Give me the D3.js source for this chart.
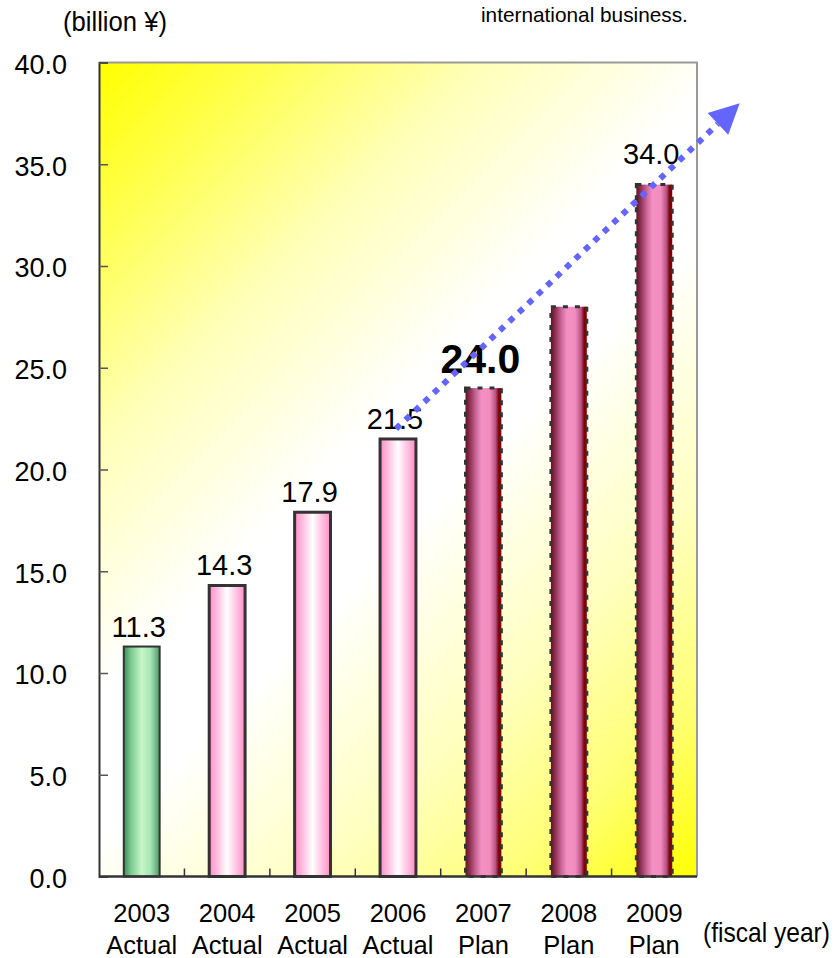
<!DOCTYPE html>
<html>
<head>
<meta charset="utf-8">
<script src="https://cdn.jsdelivr.net/npm/d3@7/dist/d3.min.js"></script>
<style>
  html, body { margin: 0; padding: 0; background: #fff; }
  svg { display: block; }
  text { font-family: "Liberation Sans", Arial, sans-serif; fill: #000; }
</style>
</head>
<body>
<svg id="chart" width="840" height="958"></svg>
<script>
// Fiscal years and their status
const years = ["2003", "2004", "2005", "2006", "2007", "2008", "2009"];
const status = ["Actual", "Actual", "Actual", "Actual", "Plan", "Plan", "Plan"];
// Sales, billion yen
const sales = [11.3, 14.3, 17.9, 21.5, 24.0, 28.0, 34.0];
// Which bars carry a value label
const labelled = [true, true, true, true, true, false, true];
const highlightYear = "2007";
// Value axis ticks
const yTicks = [0, 5, 10, 15, 20, 25, 30, 35, 40];
// Growth trend arrow: [category index, value]
const trendFrom = [3, 22];
const trendTo = [7, 38];

const plot = { left: 99, right: 697, top: 62.5, bottom: 876.5 };

const svg = d3.select("#chart");
const defs = svg.append("defs");

// Background: yellow in two opposite corners, white across the middle (45° bands)
const span = ((plot.right - plot.left) + (plot.bottom - plot.top)) / 2;
const bg = defs.append("linearGradient").attr("id", "bgGrad")
  .attr("gradientUnits", "userSpaceOnUse")
  .attr("x1", plot.left).attr("y1", plot.top)
  .attr("x2", plot.left + span).attr("y2", plot.top + span);
[[0, "#ffff00"], [0.1, "#ffff40"], [0.27, "#ffffb8"], [0.45, "#ffffff"], [0.55, "#ffffff"],
 [0.73, "#ffffc0"], [0.88, "#ffff70"], [1, "#ffff00"]]
  .forEach(([o, c]) => bg.append("stop").attr("offset", o).attr("stop-color", c));

function cylinder(id, stops) {
  const g = defs.append("linearGradient").attr("id", id)
    .attr("x1", 0).attr("y1", 0).attr("x2", 1).attr("y2", 0);
  stops.forEach(([o, c]) => g.append("stop").attr("offset", o).attr("stop-color", c));
}
cylinder("greenGrad", [[0, "#3d8a58"], [0.2, "#7cc992"], [0.5, "#c8f6c8"], [0.75, "#a6e4b4"], [1, "#4e9866"]]);
cylinder("pinkGrad", [[0, "#ff8cc6"], [0.25, "#ffc4e2"], [0.5, "#ffffff"], [0.75, "#ffc4e2"], [1, "#ff8cc6"]]);
cylinder("planGrad", [[0, "#6a1028"], [0.1, "#862a48"], [0.3, "#cc6a9c"], [0.45, "#f590c2"], [0.68, "#f28cc0"],
  [0.84, "#b8527f"], [0.9, "#8a1a34"], [0.93, "#800000"], [1, "#800000"]]);

const x = d3.scaleBand().domain(years).range([plot.left, plot.right])
  .paddingInner(0.58).paddingOuter(0.29);
const y = d3.scaleLinear().domain([0, 40]).range([plot.bottom, plot.top]);
// continuous position by category index (centre of band i)
const xi = i => plot.left + x.step() * (i + 0.5);

// plot background and frame
svg.append("rect")
  .attr("x", plot.left).attr("y", plot.top)
  .attr("width", plot.right - plot.left).attr("height", plot.bottom - plot.top)
  .attr("fill", "url(#bgGrad)");
svg.append("path")
  .attr("d", `M${plot.left},${plot.top}H${plot.right}V${plot.bottom}`)
  .attr("fill", "none").attr("stroke", "#9a9a9a").attr("stroke-width", 2);

// bars
const data = years.map((yr, i) => ({ year: yr, status: status[i], value: sales[i], labelled: labelled[i], i }));
const fillFor = d => d.i === 0 ? "url(#greenGrad)" : d.status === "Actual" ? "url(#pinkGrad)" : "url(#planGrad)";

svg.append("g").selectAll("rect").data(data).join("rect")
  .attr("x", d => x(d.year))
  .attr("y", d => y(d.value))
  .attr("width", x.bandwidth())
  .attr("height", d => y(0) - y(d.value))
  .attr("fill", fillFor)
  .attr("stroke", "#333")
  .attr("stroke-width", d => d.i === 0 ? 2 : 3)
  .attr("stroke-dasharray", d => d.status === "Plan" ? "5,7" : null);

// axes: left value axis and bottom category axis, ticks drawn inward
const yAxis = d3.axisLeft(y).tickValues(yTicks).tickSize(-9).tickPadding(32)
  .tickFormat(d3.format(".1f"));
const gy = svg.append("g").attr("transform", `translate(${plot.left},0)`).call(yAxis);
gy.select(".domain").attr("stroke", "#333").attr("stroke-width", 2);
gy.selectAll(".tick line").attr("stroke", "#555").attr("stroke-width", 1.5);
gy.selectAll(".tick text")
  .attr("font-size", 27).attr("font-family", null).attr("dy", "0.4em");

const gx = svg.append("g").attr("transform", `translate(0,${plot.bottom})`);
gx.append("line").attr("x1", plot.left).attr("x2", plot.right)
  .attr("stroke", "#333").attr("stroke-width", 2.5);
gx.selectAll("line.sep").data(years.slice(1)).join("line").attr("class", "sep")
  .attr("x1", d => x(d) - x.step() * x.paddingInner() / 2)
  .attr("x2", d => x(d) - x.step() * x.paddingInner() / 2)
  .attr("y1", 0).attr("y2", -8)
  .attr("stroke", "#333").attr("stroke-width", 1.5);

// category labels: year and status on two lines
const cat = svg.append("g").selectAll("text").data(data).join("text")
  .attr("text-anchor", "middle").attr("font-size", 25.5);
cat.append("tspan").attr("x", d => x(d.year) + x.bandwidth() / 2).attr("y", 922).text(d => d.year);
cat.append("tspan").attr("x", d => x(d.year) + x.bandwidth() / 2).attr("y", 954).text(d => d.status);

// value labels
svg.append("g").selectAll("text").data(data.filter(d => d.labelled)).join("text")
  .attr("text-anchor", "middle")
  .attr("x", d => x(d.year) + x.bandwidth() / 2 - 3)
  .attr("y", d => y(d.value) - (d.year === highlightYear ? 15 : d.i === years.length - 1 ? 21 : 10))
  .attr("font-size", d => d.year === highlightYear ? 41 : 29)
  .attr("font-weight", d => d.year === highlightYear ? "bold" : null)
  .text(d => d3.format(".1f")(d.value));

// trend arrow
const ax0 = xi(trendFrom[0]) - 2, ay0 = y(trendFrom[1]);
const ax1 = xi(trendTo[0]), ay1 = y(trendTo[1]);
const ang = Math.atan2(ay1 - ay0, ax1 - ax0);
const headLen = 30, headHalf = 15;
const bx = ax1 - headLen * Math.cos(ang), by = ay1 - headLen * Math.sin(ang);
svg.append("line")
  .attr("x1", ax0).attr("y1", ay0).attr("x2", bx).attr("y2", by)
  .attr("stroke", "#6464ff").attr("stroke-width", 6)
  .attr("stroke-dasharray", "6,7");
svg.append("path")
  .attr("d", `M${ax1},${ay1}L${bx + headHalf * Math.sin(ang)},${by - headHalf * Math.cos(ang)}L${bx - headHalf * Math.sin(ang)},${by + headHalf * Math.cos(ang)}Z`)
  .attr("fill", "#6464ff");

// unit captions, set in a horizontally condensed face
function condensedText(str, left, baseline, size, width) {
  const t = svg.append("text").attr("font-size", size).text(str);
  const natural = t.node().getComputedTextLength();
  t.attr("transform", `translate(${left},${baseline}) scale(${width / natural},1)`);
}
condensedText("(billion ¥)", 63, 31, 27, 104);
condensedText("(fiscal year)", 703, 942, 27, 127);
condensedText("international business.", 481, 22, 21, 207);
</script>
</body>
</html>
